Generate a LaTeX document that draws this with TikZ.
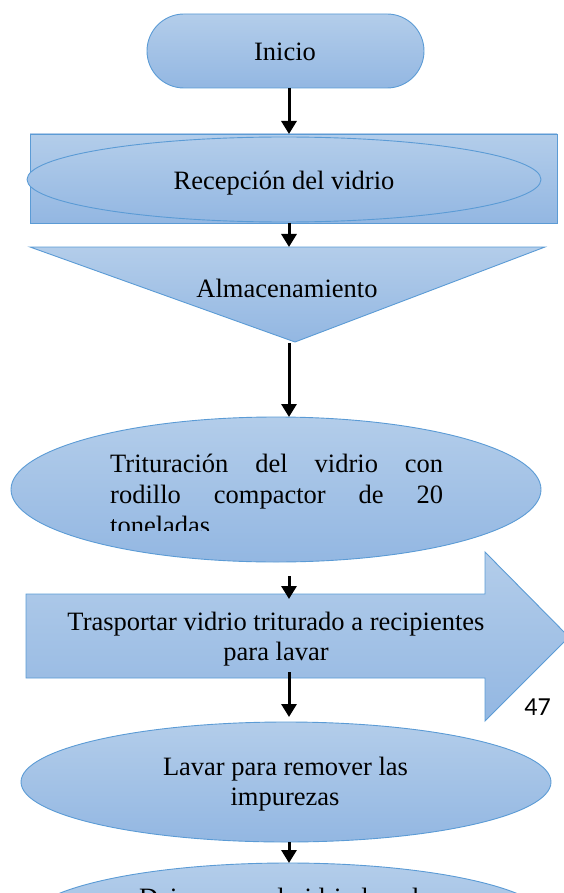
\documentclass[tikz,border=0pt]{standalone}
\usepackage{fontspec}
\setmainfont{Liberation Serif}
\newfontfamily\calibri{Carlito}
\usetikzlibrary{arrows.meta,shapes.geometric}
\definecolor{edgeblue}{HTML}{5B9BD5}
\definecolor{topblue}{HTML}{B3CDEA}
\definecolor{botblue}{HTML}{93B7E2}
\tikzset{
  shp/.style={draw=edgeblue, line width=0.9pt, top color=topblue, bottom color=botblue},
  flow/.style={line width=3pt, -{Triangle[width=15pt,length=13pt]}},
  txt/.style={font=\fontsize{26.5}{31}\selectfont, inner sep=0pt, anchor=base},
}
\begin{document}
\begin{tikzpicture}[x=1pt,y=-1pt]
\useasboundingbox (0,0) rectangle (563,893);

% Inicio
\node[shp, rectangle, rounded corners=37pt, minimum width=277pt, minimum height=74pt, inner sep=0pt] (inicio) at (285.5,51) {};
\node[txt] (tinicio) at (285,61) {Inicio};

% Recepcion
\node[shp, rectangle, minimum width=527pt, minimum height=89pt, inner sep=0pt] (recrect) at (293.5,178.5) {};
\node[shp, ellipse, minimum width=514pt, minimum height=85pt, inner sep=0pt] (recell) at (284,179.5) {};
\node[txt] (trec) at (284,190) {Recepción del vidrio};

% Almacenamiento
\coordinate (triA) at (30,247);
\coordinate (triB) at (545,247);
\coordinate (triC) at (295,342);
\path[shp] (triA) -- (triB) -- (triC) -- cycle;
\node[txt] (talm) at (287,297) {Almacenamiento};

% Trituracion
\node[shp, ellipse, minimum width=530pt, minimum height=145pt, inner sep=0pt] (trit) at (276,489.5) {};
\node[txt, anchor=base west] (tr1) at (110,472) {\hbox to 333pt{Trituración\hfill del\hfill vidrio\hfill con}};
\node[txt, anchor=base west] (tr2) at (110,503) {\hbox to 333pt{rodillo\hfill compactor\hfill de\hfill 20}};
\begin{scope}
  \clip (0,0) rectangle (563,530);
  \node[txt, anchor=base west] (tr3) at (110,534) {toneladas};
\end{scope}

% Big arrow
\path[shp] (26,594) -- (485,594) -- (485,552) -- (569,637) -- (485,721) -- (485,678) -- (26,678) -- cycle;
\node[txt] (ta1) at (276,630) {Trasportar vidrio triturado a recipientes};
\node[txt] (ta2) at (276,660) {para lavar};
\node[inner sep=0pt, anchor=base, font=\calibri\fontsize{26}{30}\selectfont] (pnum) at (537.5,715) {47};

% Lavar
\node[shp, ellipse, minimum width=530pt, minimum height=120pt, inner sep=0pt] (lavar) at (286,782) {};
\node[txt] (tl1) at (285.5,775) {Lavar para remover las};
\node[txt] (tl2) at (285,805) {impurezas};

% Dejar
\node[shp, ellipse, minimum width=526pt, minimum height=120pt, inner sep=0pt] (dejar) at (288,923) {};
\node[txt] (td1) at (285.5,906) {Dejar secar el vidrio lavado};

% Connectors
\coordinate (a1s) at (289,88);
\coordinate (a1e) at (289,134);
\coordinate (a2s) at (289,223);
\coordinate (a2e) at (289,247);
\coordinate (a3s) at (289,343);
\coordinate (a3e) at (289,417);
\coordinate (a4s) at (289,576);
\coordinate (a4e) at (289,599);
\coordinate (a5s) at (289,672);
\coordinate (a5e) at (289,717);
\coordinate (a6s) at (289,842);
\coordinate (a6e) at (289,863);
\draw[flow] (a1s) -- (a1e);
\draw[flow] (a2s) -- (a2e);
\draw[flow] (a3s) -- (a3e);
\draw[flow] (a4s) -- (a4e);
\draw[flow] (a5s) -- (a5e);
\draw[flow] (a6s) -- (a6e);
\end{tikzpicture}
\end{document}
